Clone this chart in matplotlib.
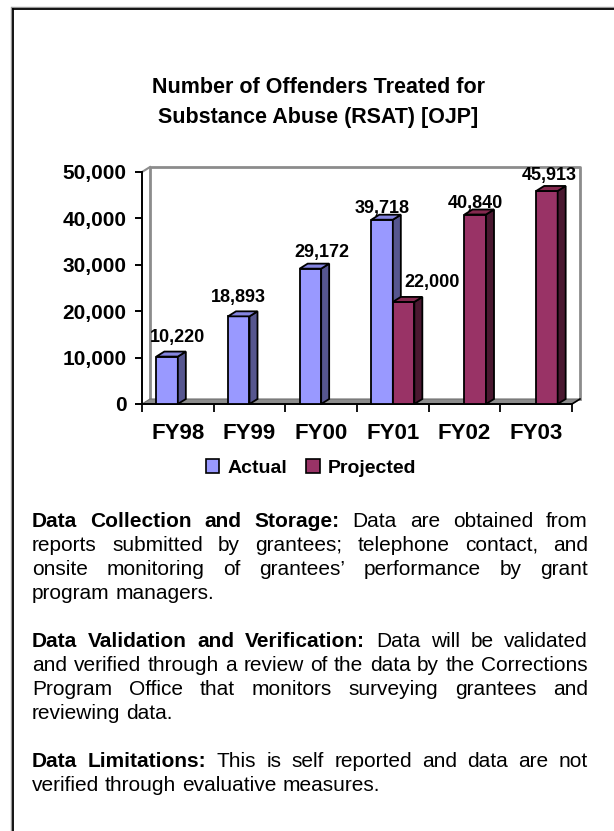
import matplotlib
matplotlib.use('Agg')
import matplotlib.pyplot as plt
from matplotlib.patches import Polygon, Patch
from matplotlib.lines import Line2D
from matplotlib.ticker import FuncFormatter, FixedLocator

plt.rcParams['font.family'] = ['Liberation Sans', 'DejaVu Sans']

# ---- data ----
years = ['FY98', 'FY99', 'FY00', 'FY01', 'FY02', 'FY03']
actual = [10220, 18893, 29172, 39718, None, None]
projected = [None, None, None, 22000, 40840, 45913]
series_names = ['Actual', 'Projected']
title_lines = ['Number of Offenders Treated for', 'Substance Abuse (RSAT) [OJP]']

# paragraphs as printed lines; first n words of each paragraph are bold
para_lines = [
    ['Data Collection and Storage: Data are obtained from',
     'reports submitted by grantees; telephone contact, and',
     'onsite monitoring of grantees\u2019 performance by grant',
     'program managers.'],
    ['Data Validation and Verification: Data will be validated',
     'and verified through a review of the data by the Corrections',
     'Program Office that monitors surveying grantees and',
     'reviewing data.'],
    ['Data Limitations: This is self reported and data are not',
     'verified through evaluative measures.'],
]
bold_words = [4, 4, 2]

# ---- style ----
W, H = 614, 831
face = {'Actual': '#9999FF', 'Projected': '#993366'}
side = {'Actual': '#56568F', 'Projected': '#4A1830'}
top = {'Actual': '#8585E0', 'Projected': '#84294F'}
bw = 0.3
depth_px = (8, 5)
# label offsets in px from bar top centre (dx, dy)
label_off = {('Actual', 0): (10, 15), ('Actual', 1): (0, 14), ('Actual', 2): (11, 12),
             ('Actual', 3): (0, 7), ('Projected', 3): (28, 15), ('Projected', 4): (0, 7),
             ('Projected', 5): (2, 11)}

fig = plt.figure(figsize=(W / 100, H / 100), dpi=100)

# outer frame (top and left only, rest is cut off)
fig.add_artist(Line2D([12 / W, 1], [1 - 7 / H, 1 - 7 / H], color='#999999', lw=1))
fig.add_artist(Line2D([11 / W, 11 / W], [0, 1 - 7 / H], color='#999999', lw=1))
fig.add_artist(Line2D([13 / W, 1], [1 - 8.5 / H, 1 - 8.5 / H], color='black', lw=1.3))
fig.add_artist(Line2D([12.5 / W, 12.5 / W], [0, 1 - 8.5 / H], color='black', lw=1.3))

ax = fig.add_axes([142 / W, 1 - 404 / H, 430 / W, 232 / H])
ax.set_xlim(-0.5, 5.5)
ax.set_ylim(0, 50000)
ddx = depth_px[0] / (430 / 6)
ddy = depth_px[1] / (232 / 50000)

# back wall and floor
ax.plot([-0.5 + ddx, -0.5 + ddx, 5.5 + ddx, 5.5 + ddx],
        [ddy, 50000 + ddy, 50000 + ddy, ddy], color='#8C8C8C', lw=2, clip_on=False, zorder=1)
ax.plot([-0.5, -0.5 + ddx], [50000, 50000 + ddy], color='#8C8C8C', lw=1.5, clip_on=False, zorder=1)
ax.add_patch(Polygon([(-0.5, 0), (5.5, 0), (5.5 + ddx, ddy), (-0.5 + ddx, ddy)],
                     closed=True, facecolor='#8C8C8C', edgecolor='#6E6E6E', lw=0.8,
                     clip_on=False, zorder=1.5))
ax.plot([5.5, 5.5 + ddx], [0, ddy], color='black', lw=1.2, clip_on=False, zorder=1.6)

z = 2
for i, yr in enumerate(years):
    for name, vals, x0 in (('Actual', actual, i - bw), ('Projected', projected, i)):
        h = vals[i]
        if h is None:
            continue
        ax.bar(x0, h, width=bw, align='edge', color=face[name], edgecolor='black',
               lw=1.3, zorder=z, clip_on=False)
        ax.add_patch(Polygon([(x0 + bw, 0), (x0 + bw + ddx, ddy), (x0 + bw + ddx, h + ddy), (x0 + bw, h)],
                             closed=True, facecolor=side[name], edgecolor='black', lw=1.3,
                             zorder=z, clip_on=False))
        ax.add_patch(Polygon([(x0, h), (x0 + ddx, h + ddy), (x0 + bw + ddx, h + ddy), (x0 + bw, h)],
                             closed=True, facecolor=top[name], edgecolor='black', lw=1.3,
                             zorder=z, clip_on=False))
        dx, dy = label_off[(name, i)]
        ax.annotate(f'{h:,}', xy=(x0 + bw / 2, h), xytext=(dx * 0.72, dy * 0.72),
                    textcoords='offset points', ha='center', va='baseline',
                    fontsize=13, fontweight='bold', zorder=10, annotation_clip=False)
        z += 1

for s in ('top', 'right'):
    ax.spines[s].set_visible(False)
for s in ('left', 'bottom'):
    ax.spines[s].set_linewidth(1.4)
    ax.spines[s].set_zorder(1.7)
ax.patch.set_alpha(0)

ax.set_yticks(range(0, 50001, 10000))
ax.yaxis.set_major_formatter(FuncFormatter(lambda v, p: f'{int(v):,}'))
ax.tick_params(axis='y', direction='out', length=5, width=1.4, pad=6,
               labelsize=15)
for t in ax.get_yticklabels():
    t.set_fontweight('bold')

ax.xaxis.set_major_locator(FixedLocator([i - 0.5 for i in range(len(years) + 1)]))
ax.xaxis.set_major_formatter(FuncFormatter(lambda v, p: ''))
ax.xaxis.set_minor_locator(FixedLocator(list(range(len(years)))))
ax.set_xticklabels(years, minor=True)
ax.tick_params(axis='x', which='major', direction='out', length=6, width=1.3)
ax.tick_params(axis='x', which='minor', length=0, pad=14, labelsize=16)
for t in ax.get_xticklabels(minor=True):
    t.set_fontweight('bold')

# title
for k, line in enumerate(title_lines):
    fig.text(318.5 / W, 1 - (93 + 30 * k) / H, line, ha='center', va='baseline',
             fontsize=15.5, fontweight='bold')

# legend
handles = [Patch(facecolor=face[n], edgecolor='black', lw=1.2) for n in series_names]
leg = fig.legend(handles, series_names, loc='center', bbox_to_anchor=(311 / W, 1 - 468 / H),
                 ncol=2, frameon=False, handlelength=0.7, handleheight=0.7,
                 handletextpad=0.4, columnspacing=1.0, borderaxespad=0,
                 prop={'size': 14, 'weight': 'bold'})

# justified body text
renderer = fig.canvas.get_renderer()
fs = 15
left, right = 32, 588
pitch = 24
y = 527
for p, lines in enumerate(para_lines):
    nb = bold_words[p]
    count = 0
    for li, line in enumerate(lines):
        words = line.split(' ')
        objs = []
        for w in words:
            wt = 'bold' if count < nb else 'normal'
            count += 1
            objs.append(fig.text(0, 1 - y / H, w, fontsize=fs, fontweight=wt, va='baseline'))
        widths = [o.get_window_extent(renderer).width for o in objs]
        last = li == len(lines) - 1
        if last:
            gap = 0.278 * fs * 100 / 72
        else:
            gap = (right - left - sum(widths)) / (len(words) - 1)
        x = left
        for o, wd in zip(objs, widths):
            o.set_x(x / W)
            x += wd + gap
        y += pitch
    y += pitch

fig.savefig('out.png', dpi=100)
